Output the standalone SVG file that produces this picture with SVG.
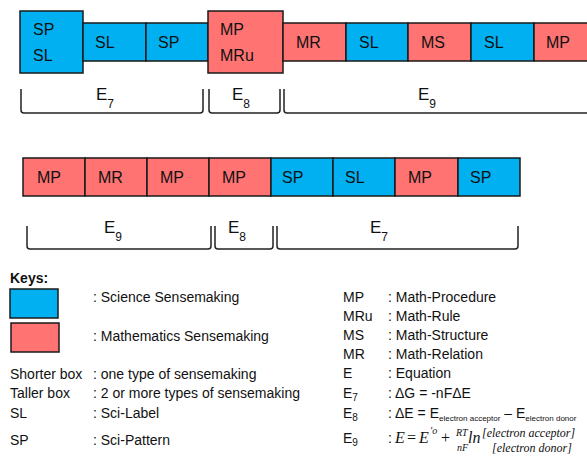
<svg xmlns="http://www.w3.org/2000/svg" width="587" height="456" viewBox="0 0 587 456">
<style>
.sci{fill:#00B0F0;stroke:#1a1a1a;stroke-width:1.5}
.math{fill:#FF7373;stroke:#1a1a1a;stroke-width:1.5}
.bl{font-family:"Liberation Sans",Arial,sans-serif;font-size:16px;fill:#111}
.brace{fill:none;stroke:#222;stroke-width:1.5}
.el{font-family:"Liberation Sans",Arial,sans-serif;font-size:17px;fill:#111}
.sub{font-size:12px}
.k{font-family:"Liberation Sans",Arial,sans-serif;font-size:14px;fill:#111}
.m{font-family:"Liberation Serif","Times New Roman",serif;font-style:italic;fill:#111}
.mu{font-family:"Liberation Serif","Times New Roman",serif;fill:#111}
</style>
<rect width="587" height="456" fill="#fff"/>
<!-- Row 1 -->
<g id="r1-sp-sl"><rect class="sci" x="20" y="11" width="63" height="62"/><text class="bl" x="33" y="35">SP</text><text class="bl" x="33" y="61">SL</text></g>
<g id="r1-sl"><rect class="sci" x="83" y="23" width="63" height="38"/><text class="bl" x="95" y="48">SL</text></g>
<g id="r1-sp"><rect class="sci" x="146" y="23" width="62" height="38"/><text class="bl" x="158" y="48">SP</text></g>
<g id="r1-mp-mru"><rect class="math" x="208" y="11" width="75" height="62"/><text class="bl" x="220" y="35">MP</text><text class="bl" x="220" y="61">MRu</text></g>
<g id="r1-mr"><rect class="math" x="283" y="23" width="63" height="38"/><text class="bl" x="296" y="48">MR</text></g>
<g id="r1-sl2"><rect class="sci" x="346" y="23" width="62" height="38"/><text class="bl" x="359" y="48">SL</text></g>
<g id="r1-ms"><rect class="math" x="408" y="23" width="63" height="38"/><text class="bl" x="421" y="48">MS</text></g>
<g id="r1-sl3"><rect class="sci" x="471" y="23" width="63" height="38"/><text class="bl" x="484" y="48">SL</text></g>
<g id="r1-mp"><rect class="math" x="534" y="23" width="70" height="38"/><text class="bl" x="546" y="48">MP</text></g>
<!-- Row 2 -->
<g id="r2-mp1"><rect class="math" x="23" y="158" width="62" height="38"/><text class="bl" x="37" y="183">MP</text></g>
<g id="r2-mr"><rect class="math" x="85" y="158" width="62" height="38"/><text class="bl" x="98" y="183">MR</text></g>
<g id="r2-mp2"><rect class="math" x="147" y="158" width="62" height="38"/><text class="bl" x="160" y="183">MP</text></g>
<g id="r2-mp3"><rect class="math" x="209" y="158" width="62" height="38"/><text class="bl" x="222" y="183">MP</text></g>
<g id="r2-sp1"><rect class="sci" x="271" y="158" width="62" height="38"/><text class="bl" x="282" y="183">SP</text></g>
<g id="r2-sl"><rect class="sci" x="333" y="158" width="62" height="38"/><text class="bl" x="345" y="183">SL</text></g>
<g id="r2-mp4"><rect class="math" x="395" y="158" width="63" height="38"/><text class="bl" x="408" y="183">MP</text></g>
<g id="r2-sp2"><rect class="sci" x="458" y="158" width="62" height="38"/><text class="bl" x="470" y="183">SP</text></g>
<!-- Braces -->
<g id="braces">
<path class="brace" d="M21,89 L21,110 Q21,113 24,113 L200,113 Q203,113 203,110 L203,89"/>
<path class="brace" d="M209,89 L209,110 Q209,113 212,113 L277,113 Q280,113 280,110 L280,89"/>
<path class="brace" d="M284,89 L284,110 Q284,113 287,113 L600,113"/>
<path class="brace" d="M27,226 L27,246 Q27,249 30,249 L208,249 Q211,249 211,246 L211,226"/>
<path class="brace" d="M215,226 L215,246 Q215,249 218,249 L270,249 Q273,249 273,246 L273,226"/>
<path class="brace" d="M277,226 L277,246 Q277,249 280,249 L515,249 Q518,249 518,246 L518,226"/>
</g>
<g id="brace-labels">
<text class="el" x="96" y="100">E<tspan class="sub" dy="8">7</tspan></text>
<text class="el" x="232" y="100">E<tspan class="sub" dy="8">8</tspan></text>
<text class="el" x="418" y="100">E<tspan class="sub" dy="8">9</tspan></text>
<text class="el" x="104" y="233">E<tspan class="sub" dy="8">9</tspan></text>
<text class="el" x="228" y="233">E<tspan class="sub" dy="8">8</tspan></text>
<text class="el" x="370" y="233">E<tspan class="sub" dy="8">7</tspan></text>
</g>
<!-- Keys -->
<g id="keys">
<text class="k" x="10" y="283" font-weight="bold">Keys:</text>
<rect class="sci" x="10" y="289" width="48" height="29"/>
<rect class="math" x="11" y="323" width="48" height="29"/>
<text class="k" x="93" y="302">: Science Sensemaking</text>
<text class="k" x="93" y="341">: Mathematics Sensemaking</text>
<text class="k" x="10" y="379">Shorter box</text><text class="k" x="93" y="379">: one type of sensemaking</text>
<text class="k" x="10" y="398">Taller box</text><text class="k" x="93" y="398">: 2 or more types of sensemaking</text>
<text class="k" x="10" y="418">SL</text><text class="k" x="93" y="418">: Sci-Label</text>
<text class="k" x="10" y="445">SP</text><text class="k" x="93" y="445">: Sci-Pattern</text>
<text class="k" x="343" y="302">MP</text><text class="k" x="388" y="302">: Math-Procedure</text>
<text class="k" x="343" y="321">MRu</text><text class="k" x="388" y="321">: Math-Rule</text>
<text class="k" x="343" y="340">MS</text><text class="k" x="388" y="340">: Math-Structure</text>
<text class="k" x="343" y="359">MR</text><text class="k" x="388" y="359">: Math-Relation</text>
<text class="k" x="343" y="378">E</text><text class="k" x="388" y="378">: Equation</text>
<text class="k" x="343" y="398">E<tspan style="font-size:10px" dy="3">7</tspan></text><text class="k" x="388" y="398">: ΔG = -nFΔE</text>
<text class="k" x="343" y="418">E<tspan style="font-size:10px" dy="3">8</tspan></text>
<text class="k" x="388" y="418">: ΔE = E<tspan style="font-size:8px" dy="3">electron acceptor</tspan><tspan dy="-3"> – E</tspan><tspan style="font-size:8px" dy="3">electron donor</tspan></text>
<text class="k" x="343" y="443">E<tspan style="font-size:10px" dy="3">9</tspan></text>
<text class="k" x="388" y="443">:</text>
<text class="m" x="395" y="443" style="font-size:16px">E</text>
<text class="mu" x="407" y="443" style="font-size:16px">=</text>
<text class="m" x="419" y="443" style="font-size:16px">E</text>
<text class="m" x="430" y="434" style="font-size:10px">'o</text>
<text class="mu" x="441" y="443" style="font-size:16px">+</text>
<text class="m" x="456" y="436" style="font-size:10px">RT</text>
<text class="m" x="457" y="451" style="font-size:10px">nF</text>
<text class="m" x="468" y="443" style="font-size:16px">ln</text>
<text class="m" x="482" y="437" style="font-size:12px">[electron acceptor]</text>
<text class="m" x="492" y="452" style="font-size:12px">[electron donor]</text>
</g>
</svg>
